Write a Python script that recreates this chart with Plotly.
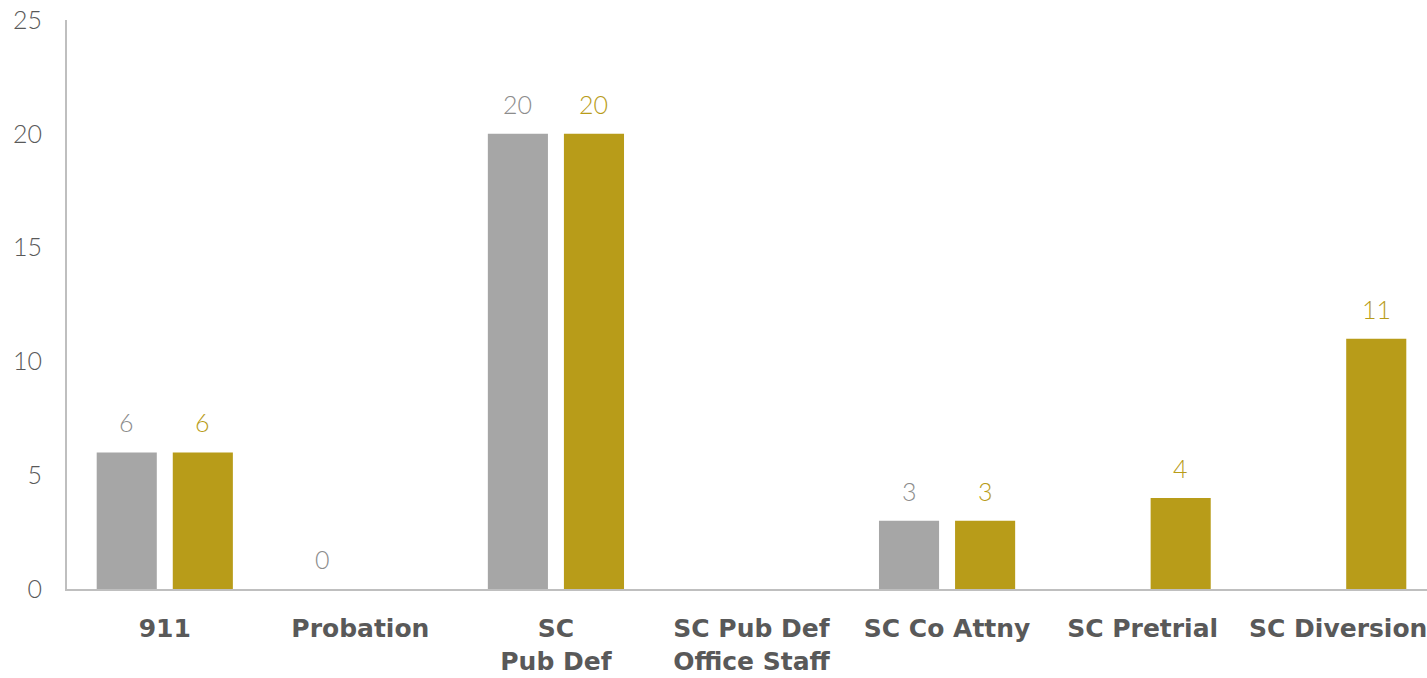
import plotly.graph_objects as go

categories = ["911", "Probation", "SC<br>Pub Def", "SC Pub Def<br>Office Staff",
              "SC Co Attny", "SC Pretrial", "SC Diversion"]
series_gray = [6, 0, 20, None, 3, None, None]
series_gold = [6, None, 20, None, 3, 4, 11]
y_ticks = [0, 5, 10, 15, 20, 25]

GRAY = "#A6A6A6"
GOLD = "#B89C19"
LABEL_FONT = dict(family="Lato", size=25, weight=300)

fig = go.Figure()
for vals, color, shift, lblcolor in [(series_gray, GRAY, -38, "#8C8C8C"),
                                     (series_gold, GOLD, 38, GOLD)]:
    fig.add_trace(go.Bar(
        x=categories, y=vals, marker_color=color, marker_line_width=0,
        hoverinfo="x+y",
    ))
    for i, v in enumerate(vals):
        if v is None:
            continue
        fig.add_annotation(
            x=i, y=v, text=str(v), showarrow=False,
            xanchor="center", yanchor="bottom", xshift=shift, yshift=13,
            font=dict(color=lblcolor, **LABEL_FONT),
        )

fig.update_layout(
    width=1436, height=678,
    margin=dict(l=67, r=0, t=20, b=89),
    paper_bgcolor="white", plot_bgcolor="white",
    showlegend=False,
    barmode="group", bargap=0.222, bargroupgap=0.21,
    xaxis=dict(
        type="category", automargin=False,
        range=[-0.5, len(categories) - 0.5],
        showline=True, linecolor="#BFBFBF", linewidth=2,
        showgrid=False, ticks="",
        tickfont=dict(family="DejaVu Sans", size=25, color="#595959", weight="bold"),
        ticklabelstandoff=16,
    ),
    yaxis=dict(
        automargin=False,
        range=[0, 25], tickvals=y_ticks,
        showline=True, linecolor="#BFBFBF", linewidth=2,
        showgrid=False, zeroline=False, ticks="",
        tickfont=dict(family="Lato", size=25, color="#595959", weight=300),
        ticklabelstandoff=18,
    ),
)
fig.write_html("out.html", config={"displayModeBar": False},
               post_script="document.body.style.margin='0';document.body.style.overflow='hidden';")
